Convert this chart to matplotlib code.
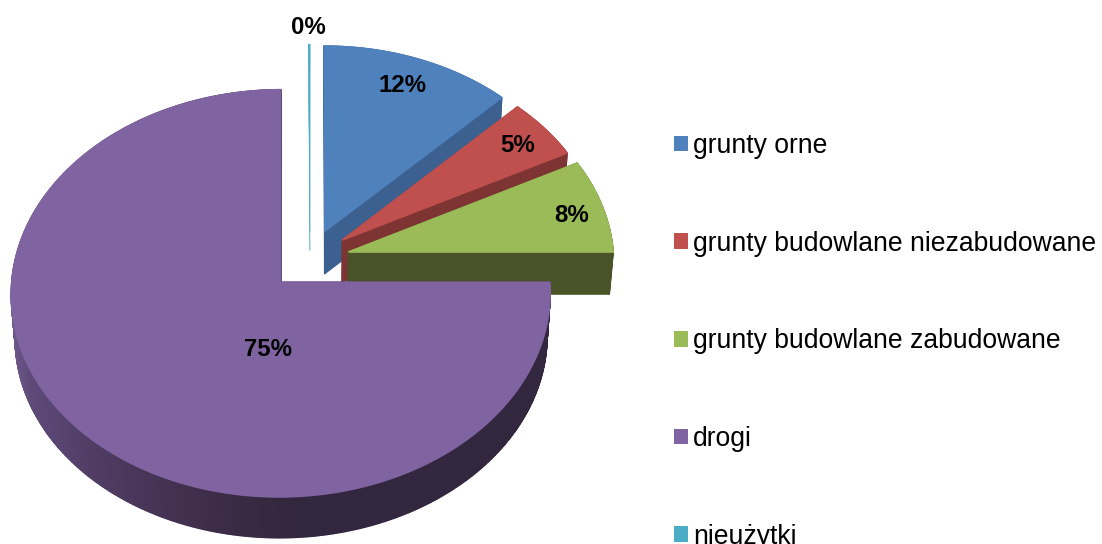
import numpy as np
import matplotlib
matplotlib.use("Agg")
import matplotlib.pyplot as plt
from matplotlib.patches import Patch, Polygon
from matplotlib.collections import PolyCollection
from matplotlib.colors import to_rgb

plt.rcParams['font.family'] = ['Liberation Sans', 'DejaVu Sans']

# data
CATEGORIES = ["grunty orne", "grunty budowlane niezabudowane",
              "grunty budowlane zabudowane", "drogi", "nieużytki"]
VALUES = [12.4, 5.0, 7.6, 74.9, 0.1]
SHARE_LABELS = ["12%", "5%", "8%", "75%", "0%"]

# style
TOP = ["#4f81bd", "#c0504d", "#9bbb59", "#8064a2", "#4bacc6"]
SIDE = ["#3c6190", "#7d3432", "#4a5228", "#33273f", "#4bacc6"]
OFFSET_UV = [(0.052, 0.144), (0.118, 0.100), (0.140, 0.040), (-0.112, -0.110), (-0.004, 0.140)]
RADIUS = [0.985, 0.975, 0.99, 0.998, 1.0]
DEPTH = [42, 42, 42, 44, 18]
LABEL_POS = [(403, 86), (518, 146), (572, 216), (268, 349), (308, 28)]
DRAW_ORDER = [4, 0, 1, 2, 3]
X0, Y0, A, B, P, S = 311, 260, 268, 201, 0.054, 0.987
GRAD_X = [15, 33, 100, 183, 267, 300]
GRAD_C = ["#6b5788", "#5e4a78", "#4e3c63", "#42304f", "#35283f", "#33273f"]


def project(u, v, depth=0.0):
    w = 1 + P * v
    s = S if depth else 1.0
    x = X0 + s * A * u / w
    y = Y0 - s * B * v / w + depth
    return x, y


fig = plt.figure(figsize=(11.02, 5.44), dpi=100)
ax = fig.add_axes([0, 0, 1, 1])
ax.set_xlim(0, 1102)
ax.set_ylim(544, 0)
ax.axis("off")

vals = np.array(VALUES, float)
edges = np.concatenate([[0], np.cumsum(vals)]) / vals.sum() * 2 * np.pi

for i in DRAW_ORDER:
    t0, t1 = edges[i], edges[i + 1]
    ou, ov = OFFSET_UV[i]
    r = RADIUS[i]
    t = np.linspace(t0, t1, max(int(np.degrees(t1 - t0) * 2), 2) + 1)
    u = np.concatenate([[ou], ou + r * np.sin(t)])
    v = np.concatenate([[ov], ov + r * np.cos(t)])
    xt, yt = project(u, v)
    xb, yb = project(u, v, DEPTH[i])
    # extruded side walls, one quad per outline segment
    quads, cols = [], []
    n = len(xt)
    for k in range(n):
        m = (k + 1) % n
        quads.append([(xt[k], yt[k]), (xt[m], yt[m]), (xb[m], yb[m]), (xb[k], yb[k])])
        if i == 3:
            xm = (xb[k] + xb[m]) / 2
            rgb = np.array([to_rgb(c) for c in GRAD_C])
            cols.append([np.interp(xm, GRAD_X, rgb[:, c]) for c in range(3)])
        else:
            cols.append(to_rgb(SIDE[i]))
    lw = 0.2 if i == 4 else 1.0
    ax.add_collection(PolyCollection(quads, facecolors=cols, edgecolors=cols, linewidths=lw))
    ax.add_patch(Polygon(np.column_stack([xt, yt]), closed=True, facecolor=TOP[i],
                         edgecolor=TOP[i], linewidth=lw + 0.2))

for lab, (x, y) in zip(SHARE_LABELS, LABEL_POS):
    ax.text(x, y, lab, ha="center", va="center", fontsize=17.3, fontweight="bold", color="black")

handles = [Patch(facecolor=c, edgecolor="none") for c in TOP]
ax.legend(handles, CATEGORIES, loc="upper left", bbox_to_anchor=(674 / 1102, 1 - 133 / 544),
          frameon=False, fontsize=19.1, handlelength=0.53, handleheight=0.53,
          handletextpad=0.19, labelspacing=2.70, borderpad=0, borderaxespad=0,
          labelcolor="black")

fig.savefig("out.png", dpi=100)
